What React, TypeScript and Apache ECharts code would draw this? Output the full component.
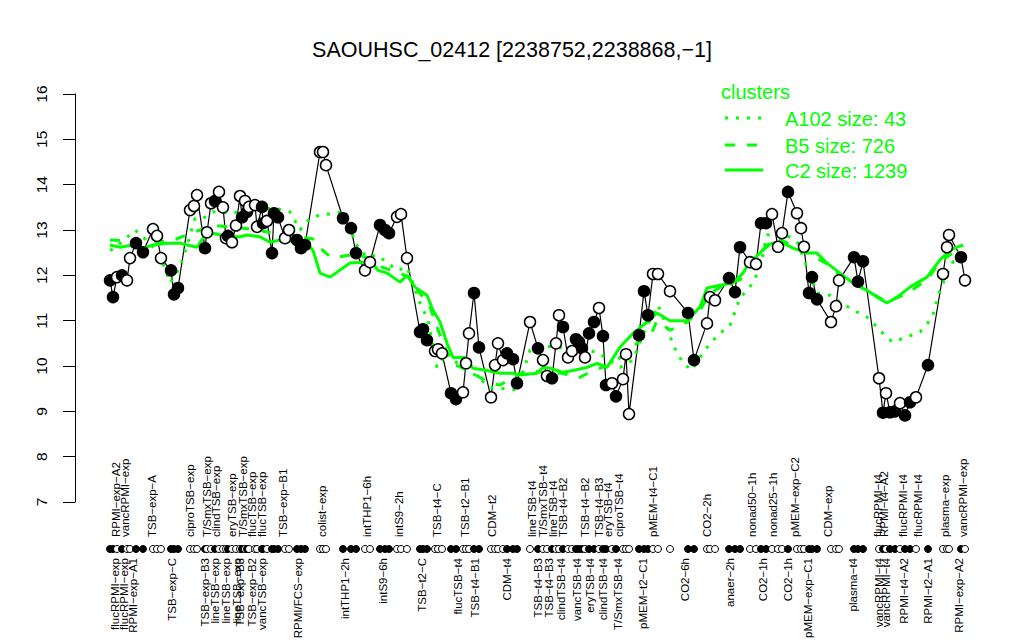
import React, { useEffect, useRef } from "react";
import * as echarts from "echarts";

// sample positions along the condition axis and expression values
const samplePos = [35, 38, 42, 47, 52, 55, 61, 68, 78, 82, 86, 96, 99, 103, 115, 119, 122, 130, 132, 136, 140, 144, 148, 151, 153, 157, 161, 165, 167, 170, 172, 174, 180, 182, 187, 188, 192, 197, 199, 203, 210, 214, 222, 226, 230, 245, 248, 251, 268, 276, 281, 290, 295, 305, 310, 314, 322, 326, 332, 345, 348, 352, 360, 363, 367, 376, 381, 388, 391, 394, 399, 404, 416, 420, 423, 428, 432, 438, 442, 455, 463, 468, 472, 477, 481, 484, 488, 493, 497, 501, 504, 507, 510, 514, 519, 524, 528, 531, 537, 541, 548, 551, 554, 564, 569, 573, 578, 583, 595, 613, 619, 632, 635, 640, 654, 660, 665, 675, 681, 686, 691, 697, 703, 707, 713, 722, 726, 729, 734, 737, 742, 756, 761, 764, 779, 783, 788, 804, 808, 811, 815, 820, 825, 830, 835, 841, 853, 868, 872, 874, 886, 890];
const sampleValues = [11.89, 11.52, 11.96, 12.0, 11.89, 12.38, 12.71, 12.51, 13.02, 12.87, 12.38, 12.11, 11.58, 11.72, 13.44, 13.53, 13.77, 12.6, 12.95, 13.59, 13.64, 13.84, 13.5, 12.82, 12.87, 12.73, 13.1, 13.75, 13.28, 13.64, 13.4, 13.51, 13.55, 13.07, 13.51, 13.15, 13.2, 12.49, 13.37, 13.28, 12.82, 13.0, 12.78, 12.6, 12.67, 14.72, 14.72, 14.43, 13.26, 13.04, 12.49, 12.11, 12.29, 13.11, 13.0, 12.93, 13.29, 13.35, 12.38, 10.75, 10.81, 10.57, 10.33, 10.37, 10.28, 9.4, 9.27, 9.42, 10.06, 10.72, 11.61, 10.41, 9.31, 10.02, 10.5, 10.13, 10.28, 10.15, 9.62, 10.97, 10.39, 10.13, 9.78, 9.73, 10.5, 11.12, 10.86, 10.19, 10.33, 10.59, 10.53, 10.39, 10.19, 10.72, 10.97, 11.28, 10.66, 9.58, 9.62, 9.33, 9.71, 10.26, 8.94, 10.68, 11.65, 11.12, 12.03, 12.03, 11.65, 11.17, 10.13, 10.94, 11.52, 11.45, 11.94, 11.63, 12.62, 12.29, 12.25, 13.15, 13.15, 13.35, 12.63, 12.93, 13.84, 13.37, 13.04, 12.63, 11.61, 11.96, 11.47, 10.97, 11.32, 11.89, 12.4, 11.86, 12.31, 9.73, 8.97, 9.4, 8.98, 9.0, 9.18, 8.91, 9.2, 9.31, 10.02, 12.03, 12.62, 12.89, 12.4, 11.89];
const sampleFilled = [1, 1, 0, 1, 0, 0, 1, 1, 0, 0, 0, 1, 1, 1, 0, 0, 0, 1, 0, 0, 1, 0, 0, 0, 1, 0, 0, 0, 1, 0, 1, 0, 0, 0, 1, 1, 0, 1, 1, 1, 0, 0, 1, 1, 1, 0, 0, 0, 1, 1, 1, 0, 0, 1, 1, 1, 0, 0, 0, 1, 1, 1, 0, 0, 0, 1, 1, 0, 0, 0, 1, 1, 0, 0, 0, 0, 1, 1, 1, 0, 1, 0, 0, 1, 0, 0, 1, 0, 0, 1, 1, 1, 0, 1, 1, 0, 1, 1, 0, 1, 0, 0, 0, 1, 1, 1, 0, 0, 0, 1, 1, 0, 0, 0, 1, 1, 1, 0, 0, 1, 1, 0, 0, 0, 1, 0, 0, 0, 1, 1, 1, 0, 0, 0, 1, 1, 1, 0, 1, 0, 1, 1, 0, 1, 1, 0, 1, 0, 0, 0, 1, 0];

// cluster profiles
const clusterC2 = [[35, 12.67], [45, 12.62], [58, 12.67], [68, 12.6], [78, 12.67], [92, 12.71], [105, 12.71], [112, 12.67], [122, 12.62], [128, 12.82], [138, 12.93], [152, 12.85], [165, 12.85], [172, 12.89], [185, 12.85], [195, 12.73], [205, 12.78], [225, 12.73], [232, 12.7], [238, 12.55], [245, 12.05], [255, 11.96], [275, 12.27], [288, 12.29], [297, 12.29], [303, 12.11], [312, 12.05], [325, 11.85], [332, 12.0], [340, 11.74], [352, 11.56], [358, 11.23], [365, 10.97], [372, 10.5], [378, 10.19], [390, 10.19], [398, 9.95], [412, 9.9], [425, 9.84], [438, 9.84], [445, 9.8], [462, 9.84], [468, 9.97], [475, 9.95], [488, 9.86], [498, 9.9], [512, 9.97], [522, 10.06], [532, 9.97], [545, 10.42], [558, 10.72], [572, 10.97], [582, 11.17], [595, 11.0], [612, 11.0], [625, 11.3], [632, 11.72], [645, 11.78], [658, 11.83], [668, 12.05], [675, 12.3], [685, 12.49], [692, 12.67], [698, 12.71], [708, 12.71], [718, 12.6], [732, 12.49], [742, 12.49], [752, 12.27], [765, 12.05], [778, 11.83], [792, 11.67], [802, 11.52], [812, 11.39], [822, 11.52], [835, 11.74], [852, 11.96], [865, 12.34], [875, 12.56], [888, 12.67]];
const clusterB5 = [[35, 12.78], [62, 12.75], [95, 12.75], [125, 13.0], [138, 13.1], [165, 13.05], [195, 12.95], [225, 12.85], [238, 12.8], [245, 12.6], [257, 12.38], [275, 12.45], [292, 12.4], [307, 12.18], [325, 12.05], [335, 11.95], [345, 11.6], [355, 11.3], [362, 10.86], [368, 10.5], [377, 10.06], [393, 9.9], [405, 9.75], [415, 9.62], [425, 9.58], [438, 9.75], [452, 9.9], [475, 9.84], [488, 9.84], [503, 9.73], [518, 9.9], [535, 10.02], [555, 10.35], [568, 10.64], [577, 10.75], [582, 11.0], [595, 10.79], [612, 10.97], [625, 11.23], [635, 11.6], [652, 11.83], [665, 11.9], [675, 12.2], [685, 12.5], [702, 12.82], [718, 12.65], [732, 12.5], [752, 12.25], [765, 12.0], [782, 11.79], [812, 11.41], [832, 11.6], [852, 11.9], [865, 12.3], [888, 12.65]];
const clusterA102 = [[35, 12.55], [40, 12.6], [60, 13.0], [75, 12.7], [85, 12.45], [95, 11.83], [105, 12.18], [113, 12.73], [120, 13.26], [128, 13.26], [138, 13.4], [158, 13.37], [172, 13.44], [198, 13.48], [207, 13.45], [215, 13.4], [225, 13.0], [235, 13.26], [245, 13.33], [262, 13.37], [270, 13.44], [280, 12.71], [292, 12.4], [302, 12.45], [322, 12.11], [332, 12.18], [345, 11.39], [353, 11.01], [362, 9.97], [372, 10.3], [382, 10.06], [400, 9.8], [415, 9.53], [442, 9.47], [455, 10.35], [463, 10.46], [485, 10.4], [522, 10.31], [545, 9.97], [558, 10.13], [570, 10.8], [583, 11.34], [592, 10.86], [598, 10.46], [608, 10.06], [617, 9.91], [625, 10.19], [635, 10.5], [645, 10.72], [655, 10.9], [665, 11.5], [678, 11.83], [685, 12.18], [692, 12.89], [708, 12.93], [722, 12.75], [732, 12.18], [742, 11.61], [755, 11.56], [765, 11.41], [782, 11.19], [792, 11.08], [802, 10.86], [812, 10.62], [818, 10.53], [832, 10.64], [845, 10.75], [857, 11.06], [865, 11.67], [875, 12.18], [885, 12.56]];

const clusterNames = ["A102 size: 43", "B5 size: 726", "C2 size: 1239"];

// condition labels (above / below the sample strip)
const topLabelNames = ["RPMI−exp−A2", "vancRPMI−exp", "TSB−exp−A", "ciproTSB−exp", "T/SmxTSB−exp", "clindTSB−exp", "eryTSB−exp", "T/SmxTSB−exp", "flucTSB−exp", "flucTSB−exp", "TSB−exp−B1", "colist−exp", "intTHP1−6h", "intS9−2h", "TSB−t4−C", "TSB−t2−B1", "CDM−t2", "lineTSB−t4", "T/SmxTSB−t4", "lineTSB−t4", "TSB−t4−B2", "TSB−t4−B2", "TSB−t4−B3", "eryTSB−t4", "ciproTSB−t4", "pMEM−t4−C1", "CO2−2h", "nonad50−1h", "nonad25−1h", "pMEM−exp−C2", "CDM−exp", "flucRPMI−t4", "RPMI−t4−A2", "flucRPMI−t4", "flucRPMI−t4", "plasma−exp", "vancRPMI−exp"];
const topLabelPos = [41, 50, 77, 115, 132, 141, 157, 168, 177, 187, 208, 247, 292, 324, 362, 390, 417, 457, 468, 478, 488, 510, 524, 533, 544, 578, 632, 677, 698, 720, 753, 803, 809, 828, 843, 870, 888];
const bottomLabelNames = ["flucRPMI−exp", "flucRPMI−exp", "RPMI−exp−A1", "TSB−exp−C", "TSB−exp−B3", "lineTSB−exp", "lineTSB−exp", "lineTSB−exp", "TSB−exp−B3", "TSB−exp−B2", "vancTSB−exp", "RPMI/FCS−exp", "intTHP1−2h", "intS9−6h", "TSB−t2−C", "flucTSB−t4", "TSB−t4−B1", "CDM−t4", "TSB−t4−B3", "TSB−t4−B3", "clindTSB−t4", "vancTSB−t4", "eryTSB−t4", "clindTSB−t4", "T/SmxTSB−t4", "pMEM−t2−C1", "CO2−6h", "anaer−2h", "CO2−1h", "CO2−1h", "pMEM−exp−C1", "plasma−t4", "vancRPMI−t4", "vancRPMI−t4", "RPMI−t4−A2", "RPMI−t2−A1", "RPMI−exp−A2"];
const bottomLabelPos = [40, 49, 58, 97, 130, 140, 151, 162, 165, 177, 187, 223, 270, 308, 347, 383, 400, 432, 463, 474, 486, 502, 515, 528, 543, 568, 610, 655, 688, 713, 733, 778, 804, 811, 829, 853, 884];

const GREEN = "#00ff00";
const FONT = "Liberation Sans, Arial, Helvetica, sans-serif";

export default function App() {
  const ref = useRef<HTMLDivElement>(null);
  useEffect(() => {
    if (!ref.current) return;
    const chart = echarts.init(ref.current, null, { renderer: "svg" });
    const points = samplePos.map((p, i) => ({
      value: [p, sampleValues[i]],
      itemStyle: { color: sampleFilled[i] ? "#000" : "#fff" },
    }));
    const stripDots = samplePos.map((p, i) => ({
      value: [p, 0],
      itemStyle: { color: sampleFilled[i] ? "#000" : "#fff" },
    }));
    const labelSeries = (names: string[], pos: number[], top: boolean) => ({
      type: "custom",
      xAxisIndex: 1,
      yAxisIndex: 1,
      silent: true,
      clip: false,
      data: pos.map((p) => [p, 0]),
      renderItem: (params: any, api: any) => {
        const pt = api.coord([api.value(0), 0]);
        return {
          type: "text",
          x: pt[0],
          y: top ? pt[1] - 12 : pt[1] + 9,
          rotation: Math.PI / 2,
          style: {
            text: names[params.dataIndex],
            fontSize: 11.5,
            fontFamily: FONT,
            fill: "#000",
            align: top ? "left" : "right",
            verticalAlign: "middle",
          },
        };
      },
    });
    const clusterLine = (data: number[][], type: any) => ({
      type: "line",
      data,
      showSymbol: false,
      symbol: "none",
      silent: true,
      z: 3,
      lineStyle: { color: GREEN, width: 3, type, opacity: 1 },
    });
    const legendY = [118, 145, 170];
    const legendDash: any[] = [[3, 8], [10, 12], null];
    const option: any = {
      animation: false,
      backgroundColor: "#fff",
      title: {
        text: "SAOUHSC_02412 [2238752,2238868,−1]",
        left: "center",
        top: 34,
        textStyle: { fontSize: 21.5, fontWeight: "normal", color: "#000", fontFamily: FONT },
      },
      grid: [
        { left: 75, width: 925, top: 94, height: 408 },
        { left: 75, width: 925, top: 539, height: 20 },
      ],
      xAxis: [
        { gridIndex: 0, type: "value", min: 0, max: 925, show: false },
        { gridIndex: 1, type: "value", min: 0, max: 925, show: false },
      ],
      yAxis: [
        {
          gridIndex: 0,
          type: "value",
          min: 7,
          max: 16,
          interval: 1,
          axisLine: { show: true, lineStyle: { color: "#000", width: 1 } },
          axisTick: { show: true, length: 12, lineStyle: { color: "#000", width: 1 } },
          axisLabel: { rotate: 90, margin: 26, fontSize: 15.5, color: "#000", fontFamily: FONT },
          splitLine: { show: false },
        },
        { gridIndex: 1, type: "value", min: -1, max: 1, show: false },
      ],
      graphic: [
        {
          type: "text",
          x: 721,
          y: 92,
          style: { text: "clusters", fontSize: 20, fontFamily: FONT, fill: GREEN, verticalAlign: "middle" },
        },
        ...clusterNames.flatMap((name, i) => [
          {
            type: "line",
            shape: { x1: 725, y1: legendY[i], x2: 763, y2: legendY[i] },
            style: { stroke: GREEN, lineWidth: 3, lineDash: legendDash[i] || undefined },
          },
          {
            type: "text",
            x: 785,
            y: legendY[i] + 1,
            style: { text: name, fontSize: 20, fontFamily: FONT, fill: GREEN, verticalAlign: "middle" },
          },
        ]),
      ],
      series: [
        {
          type: "line",
          data: samplePos.map((p, i) => [p, sampleValues[i]]),
          showSymbol: false,
          symbol: "none",
          silent: true,
          z: 2,
          lineStyle: { color: "#000", width: 1.2, opacity: 1 },
        },
        clusterLine(clusterA102, [3, 8]),
        clusterLine(clusterB5, [10, 12]),
        clusterLine(clusterC2, "solid"),
        {
          type: "scatter",
          data: points,
          symbol: "circle",
          symbolSize: 11,
          silent: true,
          z: 5,
          itemStyle: { borderColor: "#000", borderWidth: 1.5, opacity: 1 },
        },
        {
          type: "scatter",
          xAxisIndex: 1,
          yAxisIndex: 1,
          data: stripDots,
          symbol: "circle",
          symbolSize: 7,
          silent: true,
          itemStyle: { borderColor: "#000", borderWidth: 1, opacity: 1 },
        },
        labelSeries(topLabelNames, topLabelPos, true),
        labelSeries(bottomLabelNames, bottomLabelPos, false),
      ],
    };
    chart.setOption(option);
    return () => chart.dispose();
  }, []);
  return (
    <div
      ref={ref}
      style={{ position: "fixed", left: 0, top: 0, width: 1024, height: 640, background: "#fff" }}
    />
  );
}
